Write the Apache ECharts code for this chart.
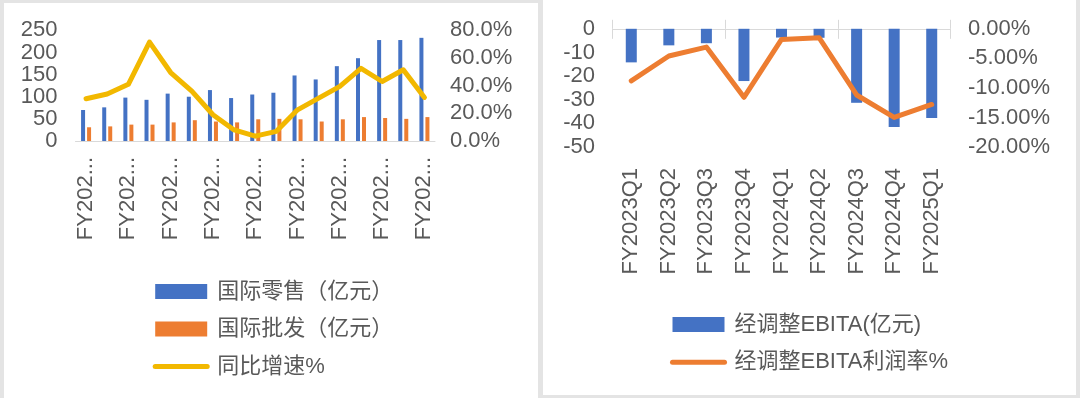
<!DOCTYPE html>
<html>
<head>
<meta charset="utf-8">
<script src="https://cdn.jsdelivr.net/npm/echarts@6/dist/echarts.min.js"></script>
<style>
html, body { margin: 0; padding: 0; background: #e4e4e4; }
#chart { width: 1080px; height: 398px; }
</style>
</head>
<body>
<div id="chart"></div>
<script>
// left panel: international retail / wholesale + yoy growth
const leftQuarters = [
    'FY2021Q1', 'FY2021Q2', 'FY2021Q3', 'FY2021Q4', 'FY2022Q1', 'FY2022Q2',
    'FY2022Q3', 'FY2022Q4', 'FY2023Q1', 'FY2023Q2', 'FY2023Q3', 'FY2023Q4',
    'FY2024Q1', 'FY2024Q2', 'FY2024Q3', 'FY2024Q4', 'FY2025Q1'
];
const retail = [70, 76, 98, 93, 107, 100, 115, 97, 105, 109, 148, 139, 169, 187, 228, 228, 233];
const wholesale = [31, 33, 37, 37, 42, 47, 44, 42, 49, 50, 49, 44, 49, 54, 52, 50, 54];
const growth = [30.5, 34, 41, 71.5, 49.5, 36, 19, 8, 3.5, 7, 22.5, 31, 39.5, 52.5, 43, 51.5, 31.5];

// right panel: adjusted EBITA + margin
const rightQuarters = [
    'FY2023Q1', 'FY2023Q2', 'FY2023Q3', 'FY2023Q4', 'FY2024Q1',
    'FY2024Q2', 'FY2024Q3', 'FY2024Q4', 'FY2025Q1'
];
const ebita = [-14.2, -7.0, -6.1, -22.1, -3.7, -3.8, -31.3, -41.5, -37.7];
const ebitaMargin = [-8.8, -4.6, -3.1, -11.6, -1.8, -1.5, -11.2, -15.0, -12.8];

const FONT = "'Liberation Sans', 'Noto Sans CJK SC', sans-serif";
const TEXT = '#595959';
const LINE_GRAY = '#d9d9d9';
const BLUE = '#4472C4';
const ORANGE = '#ED7D31';
const GOLD = '#F2B800';

function axisText(extra) {
    return Object.assign({ fontSize: 22, color: TEXT, fontFamily: FONT }, extra);
}

function makeLegend(items, left, top, gap) {
    return {
        orient: 'vertical',
        left: left,
        top: top,
        padding: 0,
        itemWidth: 52,
        itemHeight: 15,
        itemGap: gap,
        selectedMode: false,
        lineStyle: { width: 5, cap: 'round' },
        textStyle: { fontSize: 22, lineHeight: 21, color: TEXT, fontFamily: FONT, padding: [0, 0, 0, 5] },
        data: items
    };
}

const chart = echarts.init(document.getElementById('chart'));

const option = {
    animation: false,
    textStyle: { fontFamily: FONT },
    graphic: [
        { type: 'rect', z: -10, shape: { x: 4, y: 3, width: 534, height: 395 }, style: { fill: '#fff' } },
        { type: 'rect', z: -10, shape: { x: 543, y: 0, width: 533, height: 395 }, style: { fill: '#fff' } }
    ],
    legend: [
        makeLegend([
            { name: '国际零售（亿元）', icon: 'rect' },
            { name: '国际批发（亿元）', icon: 'rect' },
            // hide the circle marker that line legends draw by default
            { name: '同比增速%', itemStyle: { opacity: 0 } }
        ], 152.7, 280.5, 15.5),
        makeLegend([
            { name: '经调整EBITA(亿元)', icon: 'rect' },
            { name: '经调整EBITA利润率%', itemStyle: { opacity: 0 } }
        ], 670, 313.5, 15.7)
    ],
    grid: [
        { left: 75.5, top: 30.3, width: 359.5, height: 110.7 },
        { left: 612.5, top: 28.8, width: 338, height: 118.2 },
        { left: 612.5, top: 28.8, width: 338, height: 118.2 }
    ],
    xAxis: [
        {
            type: 'category', gridIndex: 0, data: leftQuarters,
            axisLine: { lineStyle: { color: LINE_GRAY, width: 1 } },
            axisTick: { show: false },
            axisLabel: axisText({ interval: 1, rotate: 90, margin: 16, formatter: v => v.slice(0, 5) + '...' })
        },
        {
            type: 'category', gridIndex: 1, position: 'bottom', data: rightQuarters,
            axisLine: { show: false, onZero: false },
            axisTick: { show: false },
            axisLabel: axisText({ interval: 0, rotate: 90, margin: 21 })
        },
        {
            type: 'category', gridIndex: 1, position: 'top', data: rightQuarters,
            axisLine: { lineStyle: { color: LINE_GRAY, width: 1 } },
            axisTick: { show: true, length: 9, lineStyle: { color: LINE_GRAY } },
            axisLabel: { show: false }
        },
        {
            type: 'category', gridIndex: 2, position: 'top', data: rightQuarters,
            axisLine: { show: false },
            axisTick: { show: true, inside: true, length: 10, lineStyle: { color: LINE_GRAY } },
            axisLabel: { show: false }
        }
    ],
    yAxis: [
        {
            type: 'value', gridIndex: 0, min: 0, max: 250, interval: 50,
            splitLine: { show: false }, axisLine: { show: false },
            axisLabel: axisText({ margin: 18 })
        },
        {
            type: 'value', gridIndex: 0, position: 'right', min: 0, max: 80, interval: 20,
            splitLine: { show: false }, axisLine: { show: false },
            axisLabel: axisText({ margin: 15, formatter: v => v.toFixed(1) + '%' })
        },
        {
            type: 'value', gridIndex: 1, min: -50, max: 0, interval: 10,
            splitLine: { show: false }, axisLine: { show: false },
            axisLabel: axisText({ margin: 17.5 })
        },
        {
            type: 'value', gridIndex: 1, position: 'right', min: -20, max: 0, interval: 5,
            splitLine: { show: false }, axisLine: { show: false },
            axisLabel: axisText({ margin: 17.5, formatter: v => (v === 0 ? 0 : v).toFixed(2) + '%' })
        },
        { type: 'value', gridIndex: 2, min: -50, max: 0, show: false }
    ],
    series: [
        {
            name: '国际零售（亿元）', type: 'bar', xAxisIndex: 0, yAxisIndex: 0,
            data: retail, barWidth: 4, barGap: '50%', itemStyle: { color: BLUE }
        },
        {
            name: '国际批发（亿元）', type: 'bar', xAxisIndex: 0, yAxisIndex: 0,
            data: wholesale, barWidth: 4, barGap: '50%', itemStyle: { color: ORANGE }
        },
        {
            name: '同比增速%', type: 'line', xAxisIndex: 0, yAxisIndex: 1,
            data: growth, symbol: 'none', z: 5,
            lineStyle: { width: 5, color: GOLD, cap: 'round', join: 'round' },
            itemStyle: { color: GOLD }
        },
        {
            name: '经调整EBITA(亿元)', type: 'bar', xAxisIndex: 1, yAxisIndex: 2,
            data: ebita, barWidth: 11, itemStyle: { color: BLUE }
        },
        {
            name: '经调整EBITA利润率%', type: 'line', xAxisIndex: 1, yAxisIndex: 3,
            data: ebitaMargin, symbol: 'none', z: 5,
            lineStyle: { width: 5, color: ORANGE, cap: 'round', join: 'round' },
            itemStyle: { color: ORANGE }
        }
    ]
};

chart.setOption(option);
</script>
</body>
</html>
